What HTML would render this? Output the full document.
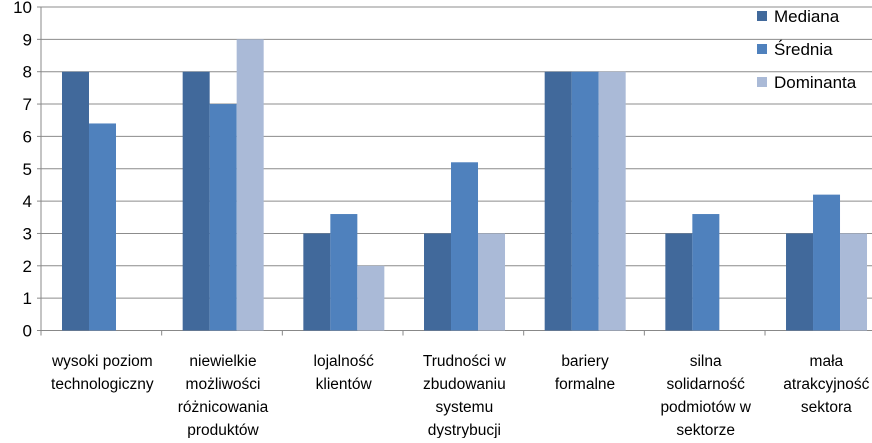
<!DOCTYPE html>
<html><head><meta charset="utf-8"><style>
body{margin:0;background:#fff;}
svg text{font-family:"Liberation Sans","DejaVu Sans",sans-serif;fill:#000;}
</style></head><body>
<svg id="chart" width="872" height="438" xmlns="http://www.w3.org/2000/svg">
<g id="grid"></g><g id="bars"></g><g id="axes"></g><g id="labels"></g>
<g id="legend"></g>
</svg>
<script>
const categories=[["wysoki poziom","technologiczny"],["niewielkie","możliwości","różnicowania","produktów"],["lojalność","klientów"],["Trudności w","zbudowaniu","systemu","dystrybucji"],["bariery","formalne"],["silna","solidarność","podmiotów w","sektorze"],["mała","atrakcyjność","sektora"]];
const seriesNames=["Mediana","Średnia","Dominanta"];
const mediana=[8,8,3,3,8,3,3];
const srednia=[6.4,7,3.6,5.2,8,3.6,4.2];
const dominanta=[0,9,2,3,8,0,3];
const yTicks=[0,1,2,3,4,5,6,7,8,9,10];
const colors=["#41699b","#4f81bd","#aabad7"];
const NS="http://www.w3.org/2000/svg";
const x0=41,y0=330.5,yTop=7,catW=120.67,barW=27,gOff=21;
const y=v=>y0-(v/10)*(y0-yTop);
function mk(t,a,p){const e=document.createElementNS(NS,t);for(const k in a)e.setAttribute(k,a[k]);p.appendChild(e);return e;}
const grid=document.getElementById('grid'),axes=document.getElementById('axes'),bars=document.getElementById('bars'),labels=document.getElementById('labels'),legend=document.getElementById('legend');
yTicks.forEach(t=>{
 const l=mk('line',{x1:x0,x2:872,y1:y(t),y2:y(t),stroke:t===0?'#888':'#8c8c8c','stroke-width':1},grid);
 
 
 const tx=mk('text',{x:x0-9,y:y(t)+6,'text-anchor':'end','font-size':17},axes);
 
 
 tx.textContent=t;
 mk('line',{x1:x0-4,x2:x0,y1:y(t),y2:y(t),stroke:'#888'},axes);
});
mk('line',{x1:x0,x2:x0,y1:yTop,y2:y0,stroke:'#888'},axes);
for(let i=0;i<=categories.length;i++){const xx=x0+i*catW;mk('line',{x1:xx,x2:xx,y1:y0,y2:y0+5,stroke:'#888'},axes);}
const series=[mediana,srednia,dominanta];
categories.forEach((c,i)=>{
 series.forEach((s,j)=>{
  if(s[i]<=0)return;
  const r=mk('rect',{x:x0+i*catW+gOff+j*barW,y:y(s[i]),width:barW,height:y0-y(s[i]),fill:colors[j]},bars);
  
  
 });
 const t=mk('text',{x:x0+i*catW+catW/2+1,'text-anchor':'middle','font-size':15.5},labels);
 
 
 c.forEach((ln,k)=>{const ts=mk('tspan',{x:x0+i*catW+catW/2+1,y:366+k*23},t);ts.textContent=ln;});
});
seriesNames.forEach((n,j)=>{
 const ly=16+j*33;
 const r=mk('rect',{x:757,y:ly-5,width:10,height:10,fill:colors[j]},legend);
 
 
 const t=mk('text',{x:774,y:ly+6,'font-size':17},legend);
 
 
 t.textContent=n;
});
</script>
</body></html>
